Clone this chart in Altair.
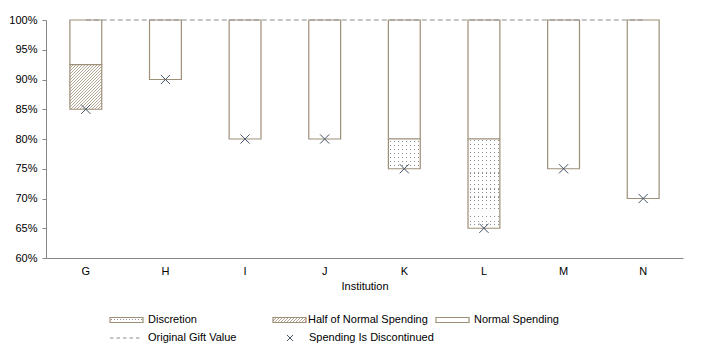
import altair as alt
import pandas as pd

# ---------------- data ----------------
institutions = ["G", "H", "I", "J", "K", "L", "M", "N"]
normal_top = [100, 100, 100, 100, 100, 100, 100, 100]
normal_low = [92.5, 90, 80, 80, 80, 80, 75, 70]
half_low = [85, None, None, None, None, None, None, None]
discretion_low = [None, None, None, None, 75, 65, None, None]
discontinued_at = [85, 90, 80, 80, 75, 65, 75, 70]
original_value = [100, 100, 100, 100, 100, 100, 100, 100]
y_ticks = [60, 65, 70, 75, 80, 85, 90, 95, 100]
legend_labels = ["Discretion", "Half of Normal Spending", "Normal Spending",
                 "Original Gift Value", "Spending Is Discontinued"]

# ---------------- style ----------------
OUTLINE = "#9e8f79"
HATCHC = "#b3a896"
MARKC = "#44546a"
DASHC = "#8c8c8c"
AXISC = "#868686"
DOTC = "#8e8e8e"
WHITE = "#ffffff"
CLEAR = "rgba(255,255,255,0)"
FONT = "Liberation Sans"
W, H = 637, 238
PAD_IN, PAD_OUT = 0.6, 0.3
Y0, Y1 = 60, 100
STEP = W / (len(institutions) - PAD_IN + 2 * PAD_OUT)
BW = STEP * (1 - PAD_IN)
PXPER = H / (Y1 - Y0)
X_PATH = "M-1,-1L1,1M-1,1L1,-1"


def stripe_stops(length, period, start, width, on, off):
    """Stops (monotonic) for stripes `width` px wide every `period` px, shifted by `start` px."""
    stops = [{"offset": 0.0, "color": off}]
    k = -1
    while k * period + start < length:
        a = k * period + start
        b = a + width
        if b > 0:
            a2 = max(a, 0.0) / length
            b2 = min(b, length) / length
            stops += [{"offset": a2, "color": off}, {"offset": a2, "color": on},
                      {"offset": b2, "color": on}, {"offset": b2, "color": off}]
        k += 1
    stops.append({"offset": 1.0, "color": off})
    return stops


def hatch_gradient(w, h, period=3.0, line=1.0):
    s = (w + h) / (w * w + h * h)
    return {"gradient": "linear", "x1": 0, "y1": 0, "x2": w * s, "y2": h * s,
            "stops": stripe_stops(w + h, period, -0.25, line, HATCHC, WHITE)}


def rows_gradient(h, period=4.0, dot=1.0):
    return {"gradient": "linear", "x1": 0, "y1": 0, "x2": 0, "y2": 1,
            "stops": stripe_stops(h, period, (period - dot) / 2, dot, DOTC, WHITE)}


def cols_gradient(w, period=4.0, dot=1.0):
    return {"gradient": "linear", "x1": 0, "y1": 0, "x2": 1, "y2": 0,
            "stops": stripe_stops(w, period, (period - dot) / 2, dot, CLEAR, WHITE)}


# ---------------- tables ----------------
rows = []
for i, inst in enumerate(institutions):
    rows.append({"institution": inst, "segment": "Normal Spending", "lo": normal_low[i], "hi": normal_top[i]})
    if half_low[i] is not None:
        rows.append({"institution": inst, "segment": "Half of Normal Spending", "lo": half_low[i], "hi": normal_low[i]})
    if discretion_low[i] is not None:
        rows.append({"institution": inst, "segment": "Discretion", "lo": discretion_low[i], "hi": normal_low[i]})
seg_df = pd.DataFrame(rows)
pts_df = pd.DataFrame({"institution": institutions, "discontinued": discontinued_at, "original": original_value})

xscale = alt.Scale(paddingInner=PAD_IN, paddingOuter=PAD_OUT)
xaxis = alt.Axis(title="Institution", labelAngle=0, ticks=False, labelPadding=7, titlePadding=4,
                 domainColor=AXISC, labelColor="#000000", titleColor="#000000",
                 titleFontWeight="normal")
yscale = alt.Scale(domain=[Y0, Y1], nice=False, zero=False)
yaxis = alt.Axis(title=None, values=y_ticks, labelExpr="datum.value + '%'", tickSize=4,
                 labelPadding=5, domainColor=AXISC, tickColor=AXISC, labelColor="#000000")


def X():
    return alt.X("institution:N", sort=institutions, scale=xscale, axis=xaxis)


def Y(f):
    return alt.Y(f, scale=yscale, axis=yaxis)


base = alt.Chart(seg_df)
layers = []
layers.append(base.transform_filter(alt.datum.segment == "Normal Spending")
              .mark_bar(fill=WHITE, stroke=OUTLINE, strokeWidth=1.2)
              .encode(x=X(), y=Y("lo:Q"), y2="hi:Q"))

for i, inst in enumerate(institutions):
    if half_low[i] is not None:
        h = (normal_low[i] - half_low[i]) * PXPER
        layers.append(base.transform_filter((alt.datum.segment == "Half of Normal Spending") & (alt.datum.institution == inst))
                      .mark_bar(fill=hatch_gradient(BW, h), stroke=OUTLINE, strokeWidth=1.2)
                      .encode(x=X(), y=Y("lo:Q"), y2="hi:Q"))
    if discretion_low[i] is not None:
        h = (normal_low[i] - discretion_low[i]) * PXPER
        f = base.transform_filter((alt.datum.segment == "Discretion") & (alt.datum.institution == inst))
        layers.append(f.mark_bar(fill=rows_gradient(h), strokeWidth=0).encode(x=X(), y=Y("lo:Q"), y2="hi:Q"))
        layers.append(f.mark_bar(fill=cols_gradient(BW), strokeWidth=0).encode(x=X(), y=Y("lo:Q"), y2="hi:Q"))
        layers.append(f.mark_bar(fill="transparent", stroke=OUTLINE, strokeWidth=1.2).encode(x=X(), y=Y("lo:Q"), y2="hi:Q"))

pts = alt.Chart(pts_df)
layers.append(pts.mark_line(color=DASHC, strokeDash=[5, 3], strokeWidth=1).encode(x=X(), y=Y("original:Q")))
layers.append(pts.mark_point(shape=X_PATH, size=85, filled=False, stroke=MARKC, strokeWidth=1, opacity=1)
              .encode(x=X(), y=Y("discontinued:Q")))

# ---------------- legend (manual) ----------------
SW_W, SW_H = 33, 5
r1, r2 = 300, 318
sw_x = [64, 227, 390]
txt_pos = [(102, r1), (262, r1), (428, r1), (102, r2), (263, r2)]
one = pd.DataFrame({"k": [0]})


def swatch(x0, fill, stroke=None):
    kw = dict(fill=fill)
    if stroke:
        kw.update(stroke=stroke, strokeWidth=1.2)
    else:
        kw.update(strokeWidth=0)
    return alt.Chart(one).mark_rect(**kw).encode(
        x=alt.value(x0), x2=alt.value(x0 + SW_W), y=alt.value(r1 - SW_H / 2), y2=alt.value(r1 + SW_H / 2))


layers.append(swatch(sw_x[0], rows_gradient(SW_H, period=SW_H, dot=1.0)))
layers.append(swatch(sw_x[0], cols_gradient(SW_W, period=3.0, dot=1.0)))
layers.append(swatch(sw_x[0], "transparent", OUTLINE))
layers.append(swatch(sw_x[1], hatch_gradient(SW_W, SW_H, period=3.0, line=1.0), OUTLINE))
layers.append(swatch(sw_x[2], WHITE, OUTLINE))
layers.append(alt.Chart(one).mark_rule(color=DASHC, strokeDash=[3.5, 3], strokeWidth=1).encode(
    x=alt.value(sw_x[0]), x2=alt.value(sw_x[0] + 32), y=alt.value(r2)))
layers.append(alt.Chart(one).mark_point(shape=X_PATH, size=36, filled=False, stroke=MARKC, strokeWidth=1, opacity=1).encode(
    x=alt.value(sw_x[1] + 17), y=alt.value(r2)))

for lab, (tx, ty) in zip(legend_labels, txt_pos):
    layers.append(alt.Chart(pd.DataFrame({"label": [lab]})).mark_text(
        align="left", baseline="middle", font=FONT, fontSize=11, color="#000000").encode(
        x=alt.value(tx), y=alt.value(ty), text="label:N"))

chart = alt.layer(*layers).properties(
    width=W, height=H,
    padding={"left": 46, "top": 20, "right": 21, "bottom": 94},
    autosize=alt.AutoSizeParams(type="none"),
).configure_view(strokeWidth=0).configure_axis(
    labelFont=FONT, titleFont=FONT, labelFontSize=11, titleFontSize=11, grid=False
)

chart.save("out.html", embed_options={"renderer": "svg", "actions": False})
